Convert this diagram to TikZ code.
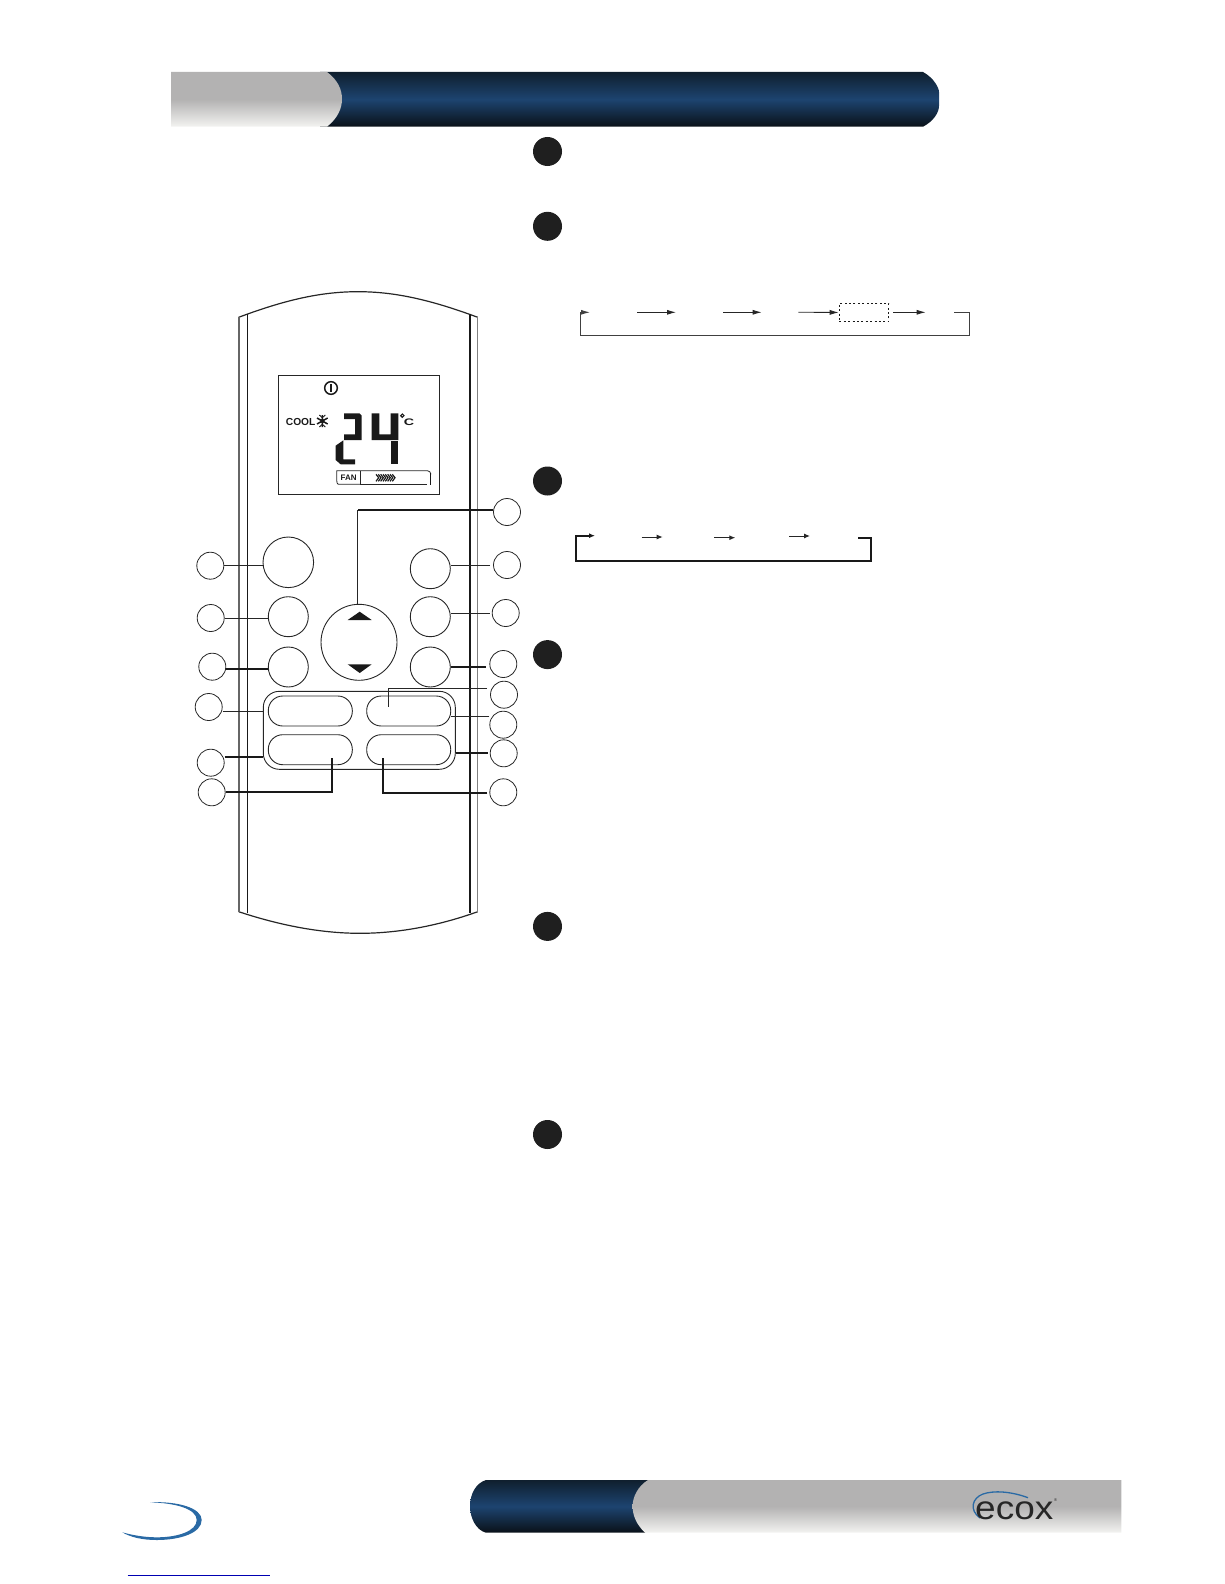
\documentclass[tikz,border=0pt]{standalone}
\usepackage{fontspec}
\setmainfont{Liberation Sans}
\usetikzlibrary{arrows.meta}

\definecolor{barblue}{HTML}{1D4470}
\definecolor{bardark}{HTML}{0F1F2E}
\definecolor{barblack}{HTML}{0A1118}
\definecolor{bargrey}{HTML}{B3B2B2}
\definecolor{barpale}{HTML}{F3F3F1}
\definecolor{swoosh}{HTML}{2A6AA5}

\begin{document}
\begin{tikzpicture}[
  x=1pt, y=-1pt,
  callout/.style={draw=black!85, circle, line width=0.8pt, inner sep=0pt, minimum size=27pt},
  bullet/.style={fill=black!88, circle, inner sep=0pt, minimum size=29pt},
  roundkey/.style={draw=black!85, circle, line width=0.9pt, inner sep=0pt, minimum size=40pt},
  pillkey/.style={draw=black!85, rectangle, rounded corners=14.5pt, line width=0.9pt, inner sep=0pt, minimum width=84pt, minimum height=30pt},
  thinline/.style={line width=0.8pt, black!85},
  thickline/.style={line width=1.7pt, black!90},
  flow/.style={-{Latex[length=9pt,width=5pt]}, line width=0.8pt, black!85},
  flowbold/.style={-{Latex[length=6pt,width=5pt]}, line width=1pt, black!85},
  looppath/.style={line width=1pt, black!75},
  bluebar/.style={top color=bardark, bottom color=barblack, middle color=barblue},
  greybar/.style={top color=bargrey, bottom color=barpale, middle color=bargrey},
  lcdtext/.style={font=\bfseries, inner sep=0pt, text=black!90}
]
\useasboundingbox (0,0) rectangle (1224,1584);

% header bar
\shade[bluebar]
  (320,72) -- (923,72) .. controls (934,78) and (939,88) .. (939,92)
  -- (939,106) .. controls (939,112) and (934,121) .. (923,126.7) -- (320,126.7) -- cycle;
\shade[greybar]
  (171,72) -- (327,72) .. controls (338,80) and (342,90) .. (342,99)
  .. controls (342,108) and (338,118) .. (327,126.7) -- (171,126.7) -- cycle;

% footer bar
\shade[bluebar]
  (486,1480) -- (648,1480) -- (645,1532.7) -- (486,1532.7)
  .. controls (476,1530) and (470,1518) .. (470,1506)
  .. controls (470,1494) and (476,1483) .. (486,1480) -- cycle;
\shade[greybar]
  (648,1480) -- (1121.4,1480) -- (1121.4,1532.7) -- (645,1532.7)
  .. controls (636,1524) and (632.6,1515) .. (632.6,1506)
  .. controls (632.6,1497) and (638,1486) .. (648,1480) -- cycle;

% logo
\draw[swoosh, line width=1.3pt] (1028,1497.7) .. controls (1010,1491) and (993,1490.5) .. (983,1494)
  .. controls (972,1498) and (969,1510) .. (980,1518);
\node[anchor=base west, inner sep=0pt, font=\fontsize{33}{33}\selectfont, xscale=1.12, text=black!85] (ecox) at (975,1519) {ecox};
\node[anchor=west, inner sep=0pt, font=\fontsize{4}{4}\selectfont, text=black!85] (mark) at (1054,1500) {®};

% swoosh and link line
\fill[swoosh] (150,1502.3) .. controls (178,1501) and (201.7,1508) .. (201.7,1520)
  .. controls (201.7,1533) and (180,1540) .. (156.7,1540)
  .. controls (142,1540) and (130,1537) .. (122.3,1532.3)
  .. controls (132,1535) and (144,1537.3) .. (156.7,1537.3)
  .. controls (178,1537.3) and (196.7,1531) .. (196.7,1520)
  .. controls (196.7,1509) and (176,1503) .. (150,1502.3) -- cycle;
\draw[line width=1pt, blue!70!black] (127.5,1575) -- (269.5,1575);

% remote body
\draw[line width=1.2pt, black!85] (238.7,317.3) .. controls (290,298) and (325,291.7) .. (358,291.7)
  .. controls (391,291.7) and (426,298) .. (477.7,317.3);
\draw[line width=1.2pt, black!85] (238.7,911.7) .. controls (285,927) and (325,933.3) .. (360,933.3)
  .. controls (395,933.3) and (435,927) .. (477.7,911.7);
\draw[line width=2pt, black!60] (239.3,317) -- (239.3,912);
\draw[line width=1pt, black!90] (247.7,314.3) -- (247.7,912.5);
\draw[line width=2pt, black!90] (470,313.5) -- (470,912.5);
\draw[line width=1.4pt, black!50] (477.5,317) -- (477.5,912);

% display
\draw[line width=1pt, black!85] (278.3,375.3) rectangle (439,494.3);
\begin{scope}[shift={(270,365)}, scale=1/3]
  \draw[line width=1.5pt, black!90] (183,69) circle[radius=19];
  \draw[line width=1.7pt, black!90] (183,58) -- (183,80);
  % snow flake
  \draw[line width=1.5pt, black!90] (157,150) -- (157,186) (141,159) -- (173,177) (141,177) -- (173,159);
  \draw[line width=0.9pt, black!90] (148,150) -- (157,158) -- (166,150) (148,186) -- (157,178) -- (166,186);
  \fill[black!90] (157,168) circle[radius=6];
  % digits
  \fill[black!90] (222,145) -- (268,145) -- (275,152) -- (275,225) -- (222,225) -- (222,208) -- (255,208) -- (255,162) -- (222,162) -- cycle;
  \fill[black!90] (220,226) -- (220,283) -- (255,283) -- (255,298) -- (212,298) -- (197,285) -- (197,242) -- cycle;
  \fill[black!90] (305,145) -- (328,145) -- (328,208) -- (362,208) -- (362,145) -- (385,145) -- (385,225) -- (305,225) -- cycle;
  \fill[black!90] (362,228) -- (385,228) -- (385,298) -- (362,298) -- cycle;
  \draw[line width=1.1pt, black!90] (397,152) circle[radius=5];
  % fan bar
  \draw[line width=0.8pt, black!85] (272,358) -- (205,358) .. controls (202,358) and (200,352) .. (200,345)
    -- (200,317) -- (472,317) .. controls (478,317) and (482,322) .. (483,328);
  \draw[line width=0.8pt, black!85] (272,317) -- (272,358) -- (470,358);
  \draw[line width=1.2pt, black!90] (482,325) -- (482,360);
  \foreach \i in {0,...,7}
    \draw[line width=1.2pt, black!90] (318+7*\i,328) -- (326+7*\i,338) -- (318+7*\i,349);
\end{scope}
\node[lcdtext, anchor=west, font=\bfseries\fontsize{10.2}{10}\selectfont] (cool) at (285.7,421.5) {COOL};
\node[lcdtext, anchor=center, font=\bfseries\fontsize{9.5}{9.5}\selectfont, xscale=1.5] (degc) at (409,422.3) {C};
\node[lcdtext, anchor=center, font=\bfseries\fontsize{8}{8}\selectfont] (fan) at (348.7,477.7) {FAN};

% keys
\node[roundkey, minimum size=50.6pt] (power) at (288.3,562.3) {};
\node[roundkey] (keyla) at (288.3,616.7) {};
\node[roundkey] (keylb) at (288.3,667) {};
\node[roundkey] (keyra) at (430.3,568.7) {};
\node[roundkey] (keyrb) at (430.3,616.7) {};
\node[roundkey] (keyrc) at (430.3,667) {};
\node[roundkey, minimum size=76pt] (updown) at (359,642.3) {};
\fill[black!90] (359.7,611.7) -- (371.7,620) -- (347.7,620) -- cycle;
\fill[black!90] (359.7,673) -- (371.7,664.3) -- (347.7,664.3) -- cycle;
\node[draw=black!85, rectangle, rounded corners=16pt, line width=0.9pt, minimum width=192pt, minimum height=78pt, inner sep=0pt] (keypanel) at (359.3,730.3) {};
\node[pillkey] (pillta) at (310.3,711) {};
\node[pillkey] (pilltb) at (408.7,711) {};
\node[pillkey] (pillba) at (310.3,749.7) {};
\node[pillkey] (pillbb) at (408.7,749.7) {};

% callouts
\node[callout] (calla) at (210.3,565.7) {};
\node[callout] (callb) at (210.7,618) {};
\node[callout] (callc) at (212.3,666.7) {};
\node[callout] (calld) at (208.7,707) {};
\node[callout] (calle) at (210.7,762.7) {};
\node[callout] (callf) at (211.7,792.3) {};
\node[callout] (callg) at (507,512) {};
\node[callout] (callh) at (507,565) {};
\node[callout] (calli) at (505.7,613) {};
\node[callout] (callj) at (503.3,664) {};
\node[callout] (callk) at (504,694.7) {};
\node[callout] (calll) at (503.3,724.7) {};
\node[callout] (callm) at (503.7,753.3) {};
\node[callout] (calln) at (503.3,792.3) {};

% connectors
\coordinate (bendg) at (357.7,510);
\coordinate (endk) at (388.3,706.7);
\coordinate (bendk) at (388.3,688.3);
\coordinate (endf) at (331.7,758.3);
\coordinate (endn) at (383.3,758.3);
\coordinate (bendn) at (383.3,792.7);

\draw[thinline] (calla.east) -- (calla.east -| power.west);
\draw[thinline] (callb.east) -- (callb.east -| keyla.west);
\draw[thickline] ([yshift=-2.3pt]callc.east) -- ([yshift=-2.3pt]callc.east -| keylb.west);
\draw[thinline] (calld.east |- 0,711.3) -- (keypanel.west |- 0,711.3);
\draw[thickline] (calle.east |- 0,756.7) -- (keypanel.west |- 0,756.7);
\draw[thickline] (callf.east) -- (callf.east -| endf) -- (endf);
\draw[thickline] (callg.west |- bendg) -- (bendg);
\draw[thinline] (bendg) -- (updown.north -| bendg);
\draw[thinline, shorten <=3pt] (callh.west) -- (callh.west -| keyra.east);
\draw[thinline, shorten <=2pt] (calli.west) -- (calli.west -| keyrb.east);
\draw[thickline, shorten >=3pt] (keyrc.east) -- (keyrc.east -| callj.west);
\draw[thinline, shorten <=3pt] (callk.west |- bendk) -- (bendk) -- (endk);
\draw[thinline] (calll.west |- 0,716.3) -- (pilltb.east |- 0,716.3);
\draw[thickline, shorten <=2pt] (callm.west |- 0,752.7) -- (keypanel.east |- 0,752.7);
\draw[thickline, shorten <=2pt] (calln.west |- bendn) -- (bendn) -- (endn);

% first bullets
\node[bullet] (buta) at (547.5,151.5) {};
\node[bullet] (butb) at (547.5,226.3) {};
\node[bullet] (butc) at (547.5,481) {};
\node[bullet] (butd) at (547.5,654.6) {};
\node[bullet] (bute) at (547.5,926.4) {};
\node[bullet] (butf) at (547.5,1134.5) {};

% fan speed cycle
\node[draw=black!90, dash pattern=on 2pt off 2.4pt, line width=1.2pt, rectangle, minimum width=49.4pt, minimum height=18.4pt, inner sep=0pt] (timerbox) at (864,312.5) {};
\coordinate (ma) at (637.3,312.3);
\coordinate (mb) at (676,312.3);
\coordinate (mc) at (723.3,312.3);
\coordinate (md) at (761.7,312.3);
\coordinate (me) at (798.3,312.3);
\coordinate (mf) at (893.3,312.3);
\coordinate (mg) at (925.7,312.3);
\coordinate (mh) at (954,312.3);
\coordinate (mi) at (590,312.3);
\draw[flow] (ma) -- (mb);
\draw[flow] (mc) -- (md);
\draw[flow] (me) -- (timerbox);
\draw[flow] (mf) -- (mg);
\draw[looppath, -{Latex[length=9pt,width=5pt]}] (mh) -- (969.3,312.3) -- (969.3,335) -- (580.7,335) -- (580.7,312.3) -- (mi);

% mode cycle
\coordinate (sa) at (641.7,537);
\coordinate (sb) at (662.7,537);
\coordinate (sc) at (714.3,537.7);
\coordinate (sd) at (735.3,537.7);
\coordinate (se) at (789,536);
\coordinate (sf) at (810,536);
\coordinate (sg) at (858.3,538.3);
\coordinate (sh) at (595,535.7);
\draw[flowbold] (sa) -- (sb);
\draw[flowbold] (sc) -- (sd);
\draw[flowbold] (se) -- (sf);
\draw[line width=1.8pt, black!90, -{Latex[length=6pt,width=5pt]}] (sg) -- (870.7,538.3) -- (870.7,560.7) -- (575.7,560.7) -- (575.7,535.7) -- (sh);
\end{tikzpicture}
\end{document}
